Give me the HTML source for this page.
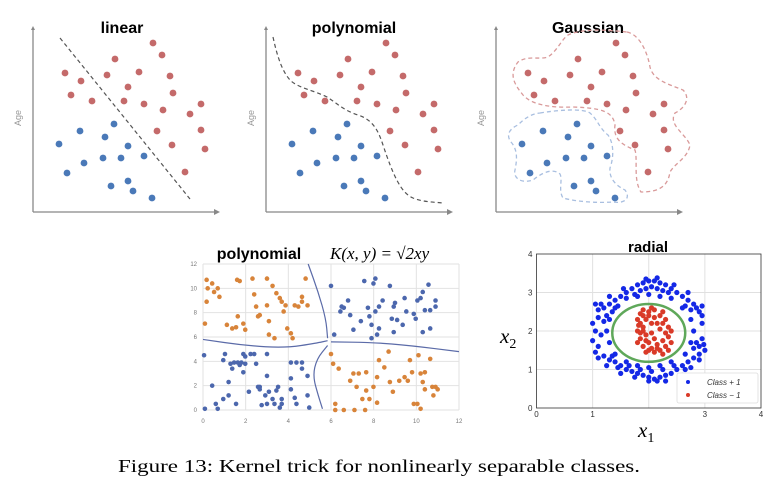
<!DOCTYPE html>
<html><head><meta charset="utf-8"><style>
html,body{margin:0;padding:0;background:#fff;}
svg{display:block;}
</style></head><body>
<svg id="fig" width="784" height="493" viewBox="0 0 784 493" xmlns="http://www.w3.org/2000/svg" font-family="Liberation Sans, sans-serif">
<rect width="784" height="493" fill="#fff"/>
<g id="topPanels"></g>
<g id="bpoly"></g>
<g id="brad"></g>
<text x="379" y="472" text-anchor="middle" font-family="Liberation Serif, serif" font-size="18" textLength="522" lengthAdjust="spacingAndGlyphs" fill="#000">Figure 13: Kernel trick for nonlinearly separable classes.</text>
</svg>
<script>
var topRedX=[153,162,115,65,107,139,170,81,128,173,71,92,124,144,163,201,190,157,201,172,205,185];
var topRedY=[43,55,59,73,75,72,76,81,87,93,95,101,101,104,110,104,114,131,130,145,149,172];
var topBlueX=[114,80,105,59,128,103,121,144,84,67,111,128,133,152];
var topBlueY=[124,131,137,144,146,158,158,156,163,173,186,181,191,198];
var topTitles=["linear","polynomial","Gaussian"];

var orangeX=[0.17,0.22,0.43,0.52,0.69,0.77,0.17,0.09,1.12,1.37,1.55,1.63,1.72,1.6,1.89,1.98,2.32,2.4,2.49,2.58,2.66,3.0,3.0,3.09,3.09,3.26,3.44,3.6,3.69,3.78,3.87,3.95,4.12,4.3,4.47,4.64,4.64,4.9,4.81,4.2,3.35,
6.0,6.1,6.36,6.2,6.6,6.2,7.1,7.6,6.9,7.05,7.3,7.65,7.2,7.47,7.8,7.65,7.99,8.16,8.16,8.25,8.5,8.7,8.76,8.9,9.2,9.45,9.6,9.7,9.8,9.88,10.05,10.1,10.2,10.3,10.4,10.4,10.65,10.75,10.8,10.9,11.0,10.2];
var orangeY=[10.7,10.0,10.4,9.7,10.0,9.3,8.9,7.1,7.0,6.7,6.8,7.7,10.6,10.7,7.1,6.6,10.8,9.5,8.5,7.7,7.8,10.8,8.6,7.3,6.2,10.2,9.6,9.2,8.9,8.1,8.6,6.7,6.3,8.6,8.5,9.3,8.9,8.6,10.8,5.9,5.9,
4.6,3.8,3.4,0.5,0,0,0,0,2.4,3,3,3.1,1.9,0.9,0.9,1.6,1.9,0.6,2.7,4.1,3.5,4.8,2.3,1.5,2.4,2.7,2.4,4.1,3.1,0.5,0.5,4.5,3,2.3,1.7,3.1,4.2,1.9,1.2,1.9,1.7,0.1];
var bblueX=[6.0,6.15,6.44,6.5,6.6,6.8,6.9,7.05,7.4,7.56,7.73,7.8,7.9,7.99,8.08,8.08,7.9,8.25,8.25,8.42,8.16,8.76,8.85,8.94,9.0,8.94,9.1,9.36,9.45,9.53,9.88,9.97,10.05,10.2,10.3,10.4,10.3,10.57,10.65,10.65,10.9,10.9,
0.05,0.09,0.43,0.6,0.69,0.95,0.95,1.03,1.2,1.2,1.29,1.37,1.46,1.55,1.63,1.72,1.8,1.89,1.98,1.89,1.98,2.15,2.23,2.4,2.49,2.58,2.66,2.66,2.75,2.92,3.0,3.0,3.0,3.09,3.26,3.35,3.44,3.52,3.6,3.69,3.69,4.12,4.12,4.12,4.3,4.38,4.38,4.64,4.64,4.9,4.9,4.98];
var bblueY=[10.2,6.2,8.1,8.5,8.4,9.0,7.8,6.6,7.3,10.6,8.4,7.7,7.0,10.4,10.8,8.1,5.9,8.5,6.7,9.0,6.2,10.2,7.5,8.5,8.8,6.4,7.4,7.0,9.2,8.1,7.9,7.5,9.0,9.2,9.7,8.2,6.4,10.3,6.7,8.2,9.0,8.5,
4.5,0.1,2.0,0.5,0.1,0.9,4.1,4.6,2.3,1.2,3.8,3.4,3.9,0.5,3.9,3.7,3.9,3.1,3.8,4.6,4.4,1.5,4.6,4.6,3.8,1.9,1.7,1.9,0.4,1.2,4.6,2.8,0.5,1.5,0.9,0.5,1.6,1.9,0.2,0.9,0.5,3.9,2.6,1.7,1.0,3.9,0.5,3.9,3.4,2.8,1.2,0.2];
var polyTicks=[0,2,4,6,8,10,12];
var curveA=[[4.93,12],[5.4,9.7],[5.76,7.5],[5.84,5.9]];
var curveB=[[5.84,5.3],[5.33,4.2],[5.15,2.8],[5.4,1.2],[5.6,0.1]];
var curveC=[[0,5.8],[1.98,5.3],[3.87,5.1],[5.33,5.5],[5.84,5.7]];
var curveD=[[6.0,5.6],[7.99,5.55],[9.7,5.3],[12,4.8]];

var radBlueX=[1.6,1.7,1.8,1.9,2.0,2.1,2.2,2.3,2.4,1.75,1.95,2.15,2.35,2.5,1.5,2.05,2.25,1.85,2.6,1.4,
1.2,1.3,1.1,1.35,1.25,2.7,2.8,2.85,2.9,2.95,2.75,1.45,2.65,1.15,
1.0,1.05,1.0,1.1,1.15,1.2,1.05,2.95,2.9,2.85,3.0,2.9,2.8,2.95,
1.2,1.3,1.4,1.5,1.6,1.7,1.8,1.9,2.0,2.1,2.2,2.3,2.4,2.5,2.6,2.7,2.8,1.45,1.65,1.85,2.05,2.25,2.45,2.65,2.0,2.15,1.35,2.75,1.25,2.55,
1.6,1.8,2.0,2.2,2.4,1.4,2.6,1.3,2.75,1.25,2.8,1.3,2.75,1.4,2.65,1.6,1.8,2.0,2.2,2.4,1.55,2.45,1.3,2.7,1.1,2.95,1.1,2.9,1.5,2.6,1.75,2.3,1.95,2.15,1.05,2.98];
var radBlueY=[3.0,3.1,3.2,3.25,3.3,3.3,3.25,3.2,3.1,2.95,3.1,3.1,3.0,3.0,2.9,3.15,3.05,3.05,2.9,2.8,
2.6,2.7,2.55,2.5,2.4,2.8,2.7,2.6,2.5,2.4,2.55,2.65,2.65,2.7,
2.2,2.0,1.75,1.6,1.9,2.25,1.45,1.8,1.6,1.7,1.5,1.4,1.55,2.2,
1.35,1.25,1.2,1.1,1.0,0.95,0.9,0.85,0.8,0.75,0.8,0.85,0.9,1.0,1.1,1.2,1.3,1.05,1.1,1.0,0.95,1.0,1.1,1.0,0.7,0.7,1.35,1.05,1.1,0.8,
2.85,2.9,2.95,2.9,2.85,2.6,2.6,2.3,2.3,2.0,2.0,1.7,1.7,1.4,1.4,1.2,1.1,1.05,1.1,1.2,3.1,3.2,2.9,3.0,2.35,2.65,1.3,1.25,0.9,0.85,0.8,0.7,3.35,3.38,2.7,1.65];
var radRedX=[1.8,1.85,1.9,2.0,2.1,2.2,2.25,1.85,1.9,2.0,2.1,2.2,2.3,2.35,2.4,2.3,1.95,2.05,1.95,1.8,2.0,2.15,2.25,2.4,2.35,1.9,2.1,1.85,2.05,2.2,2.05,1.8,
1.9,1.95,2.1,2.15,1.9,2.25,1.95,2.25,2.3,2.0,1.85,2.05,2.15,2.35,1.82];
var radRedY=[2.0,2.2,2.4,2.5,2.55,2.4,2.2,1.8,1.6,1.5,1.45,1.5,1.6,1.85,2.0,2.3,2.3,2.2,1.9,1.7,1.7,1.65,1.75,1.7,2.1,2.1,2.35,2.45,1.55,2.05,2.6,2.3,
2.0,1.75,1.8,2.2,2.55,2.5,1.45,1.4,1.95,2.4,1.95,1.95,1.55,1.5,2.15];
var radTicksX=[0,1,3,4];
var radTicksY=[0,1,2,3,4];

var NS="http://www.w3.org/2000/svg";
function mk(tag,attrs,parent){var e=document.createElementNS(NS,tag);for(var k in attrs)e.setAttribute(k,attrs[k]);parent.appendChild(e);return e;}

var topGroup=document.getElementById('topPanels');
var offs=[0,233,463];
var titleX=[122,354,588];
for(var p=0;p<3;p++){
  var g=mk('g',{transform:'translate('+offs[p]+',0)'},topGroup);
  
  
  var ya=mk('path',{d:'M33,212 L33,28',stroke:'#888','stroke-width':1.3,fill:'none'},g);
  
  
  mk('path',{d:'M31,30 L33,26 L35,30 Z',fill:'#888'},g);
  var xa=mk('path',{d:'M33,212 L218,212',stroke:'#888','stroke-width':1.3,fill:'none'},g);
  
  
  mk('path',{d:'M214,209 L220,212 L214,215 Z',fill:'#888'},g);
  var ag=mk('text',{x:0,y:0,transform:'translate(21,118) rotate(-90)','text-anchor':'middle','font-size':9,fill:'#999'},g);
  ag.textContent='Age';
  
  
  var tt=mk('text',{x:titleX[p]-offs[p],y:33,'text-anchor':'middle','font-size':16,'font-weight':'bold',fill:'#000'},g);
  tt.textContent=topTitles[p];
  
  
  if(p==0){
    var dl=mk('path',{d:'M60,38 L190,199',stroke:'#555','stroke-width':1.2,'stroke-dasharray':'4,3',fill:'none'},g);
    
    
  } else if(p==1){
    var dp=mk('path',{d:'M40,37 C45,60 50,72 57,80 C65,88 80,90 94,97 C105,104 110,110 125,115 C140,120 145,130 150,145 C160,175 168,193 180,198 C190,202 200,202 210,203',stroke:'#555','stroke-width':1.2,'stroke-dasharray':'4,3',fill:'none'},g);
    
    
  } else {
    var rb=mk('path',{d:'M164,32 C178,35 185,55 187,67 C190,80 205,84 220,90 C228,98 222,108 212,113 C205,125 222,133 227,145 C225,158 212,163 207,172 C205,185 198,192 178,192 C170,180 175,160 172,150 C160,145 150,140 152,125 C150,112 140,108 110,107 C85,108 68,104 60,95 C52,85 45,75 55,62 C65,55 75,60 85,57 C95,50 98,40 105,35 C120,28 145,30 164,32 Z',stroke:'#d99a9a','stroke-width':1.3,'stroke-dasharray':'4,3',fill:'none'},g);
    
    
    var bb=mk('path',{d:'M77,113 C95,110 120,108 127,113 C135,120 136,128 145,135 C152,145 150,160 147,168 C146,178 152,185 162,190 C168,198 162,204 150,202 C135,203 115,202 100,198 C95,190 100,180 97,174 C90,168 80,172 70,180 C58,184 50,178 52,170 C54,160 55,150 48,142 C42,134 48,128 55,125 C62,118 68,114 77,113 Z',stroke:'#a9bfe0','stroke-width':1.3,'stroke-dasharray':'4,3',fill:'none'},g);
    
    
  }
  for(var i=0;i<topRedX.length;i++){
    var c=mk('circle',{cx:topRedX[i],cy:topRedY[i],r:3.4,fill:'#c46a6a'},g);
    
    
  }
  for(var i=0;i<topBlueX.length;i++){
    var c=mk('circle',{cx:topBlueX[i],cy:topBlueY[i],r:3.4,fill:'#4a79b8'},g);
    
    
  }
}

var bp=document.getElementById('bpoly');
var PX0=203,PX1=459,PY0=410,PY1=264;
function px(v){return PX0+(PX1-PX0)*v/12;}
function py(v){return PY0-(PY0-PY1)*v/12;}
for(var i=0;i<polyTicks.length;i++){
  var t=polyTicks[i];
  var gv=mk('line',{x1:px(t),x2:px(t),y1:py(0),y2:py(12),stroke:'#e2e2e2','stroke-width':1},bp);
  
  
  var gh=mk('line',{x1:px(0),x2:px(12),y1:py(t),y2:py(t),stroke:'#e2e2e2','stroke-width':1},bp);
  
  
  var lx=mk('text',{x:px(t),y:py(0)+13,'text-anchor':'middle','font-size':6,fill:'#777'},bp);
  lx.textContent=t;
  
  
  var ly=mk('text',{x:px(0)-6,y:py(t)+2,'text-anchor':'end','font-size':6,fill:'#777'},bp);
  ly.textContent=t;
  
  
}
function curve(pts,name){
  var d='M'+px(pts[0][0])+','+py(pts[0][1]);
  for(var i=1;i<pts.length;i++){
    var a=pts[i-1],b=pts[i];
    var mx=(px(a[0])+px(b[0]))/2,my=(py(a[1])+py(b[1]))/2;
    d+=' Q'+px(a[0])+','+py(a[1])+' '+mx+','+my;
  }
  var l=pts[pts.length-1];d+=' L'+px(l[0])+','+py(l[1]);
  var e=mk('path',{d:d,stroke:'#5b6ba8','stroke-width':1.2,fill:'none'},bp);
  
  
}
curve(curveA,'boundary-curve-upper');
curve(curveB,'boundary-curve-lower');
curve(curveC,'boundary-curve-left');
curve(curveD,'boundary-curve-right');
for(var i=0;i<orangeX.length;i++){
  var c=mk('circle',{cx:px(orangeX[i]),cy:py(orangeY[i]),r:2.3,fill:'#d8843a'},bp);
  
  
}
for(var i=0;i<bblueX.length;i++){
  var c=mk('circle',{cx:px(bblueX[i]),cy:py(bblueY[i]),r:2.3,fill:'#4c67ad'},bp);
  
  
}
var pt=mk('text',{x:259,y:259,'text-anchor':'middle','font-size':16,'font-weight':'bold',fill:'#000'},bp);
pt.textContent='polynomial';


var fm=mk('text',{x:330,y:259,'font-size':17,'font-style':'italic','font-family':'Liberation Serif, serif',fill:'#000'},bp);
fm.textContent='K(x, y) = \u221A2xy';



var rg=document.getElementById('brad');
var RX0=536.5,RX1=761,RY0=408,RY1=254;
function rx(v){return RX0+(RX1-RX0)*v/4;}
function ry(v){return RY0-(RY0-RY1)*v/4;}
for(var v=1;v<4;v++){
  var g1=mk('line',{x1:rx(v),x2:rx(v),y1:ry(0),y2:ry(4),stroke:'#e0e0e0','stroke-width':1},rg);
  
  
  var g2=mk('line',{x1:rx(0),x2:rx(4),y1:ry(v),y2:ry(v),stroke:'#e0e0e0','stroke-width':1},rg);
  
  
}
var fr=mk('rect',{x:rx(0),y:ry(4),width:rx(4)-rx(0),height:ry(0)-ry(4),fill:'none',stroke:'#333','stroke-width':0.8},rg);


for(var i=0;i<radTicksX.length;i++){
  var t=mk('text',{x:rx(radTicksX[i]),y:ry(0)+9,'text-anchor':'middle','font-size':8,fill:'#333'},rg);
  t.textContent=radTicksX[i];
  
  
}
for(var i=0;i<radTicksY.length;i++){
  var t=mk('text',{x:rx(0)-4,y:ry(radTicksY[i])+3,'text-anchor':'end','font-size':8,fill:'#333'},rg);
  t.textContent=radTicksY[i];
  
  
}
for(var i=0;i<radBlueX.length;i++){
  var c=mk('circle',{cx:rx(radBlueX[i]),cy:ry(radBlueY[i]),r:2.6,fill:'#1428e6'},rg);
  
  
}
for(var i=0;i<radRedX.length;i++){
  var c=mk('circle',{cx:rx(radRedX[i]),cy:ry(radRedY[i]),r:2.6,fill:'#d93a28'},rg);
  
  
}
var el=mk('ellipse',{cx:rx(2.0),cy:ry(1.95),rx:rx(0.65)-rx(0),ry:ry(0)-ry(0.75),fill:'none',stroke:'#5fa85a','stroke-width':2.5},rg);


var lg=mk('g',{},rg);


mk('rect',{x:677,y:373,width:81,height:30,fill:'#fff',stroke:'#ddd','stroke-width':0.8,rx:2},lg);
mk('circle',{cx:688,cy:382,r:2,fill:'#1428e6'},lg);
mk('circle',{cx:688,cy:395,r:2,fill:'#d93a28'},lg);
var l1=mk('text',{x:707,y:385,'font-size':8,'font-style':'italic',fill:'#333'},lg);
l1.textContent='Class + 1';


var l2=mk('text',{x:707,y:398,'font-size':8,'font-style':'italic',fill:'#333'},lg);
l2.textContent='Class \u2212 1';


var rt=mk('text',{x:648,y:252,'text-anchor':'middle','font-size':15,'font-weight':'bold',fill:'#000'},rg);
rt.textContent='radial';


var x2=mk('text',{x:500,y:343,'font-size':21,'font-style':'italic','font-family':'Liberation Serif, serif',fill:'#000'},rg);
x2.innerHTML='x<tspan font-size="14" dy="5" font-style="normal">2</tspan>';


var x1=mk('text',{x:638,y:437,'font-size':21,'font-style':'italic','font-family':'Liberation Serif, serif',fill:'#000'},rg);
x1.innerHTML='x<tspan font-size="14" dy="5" font-style="normal">1</tspan>';


</script>
</body></html>
